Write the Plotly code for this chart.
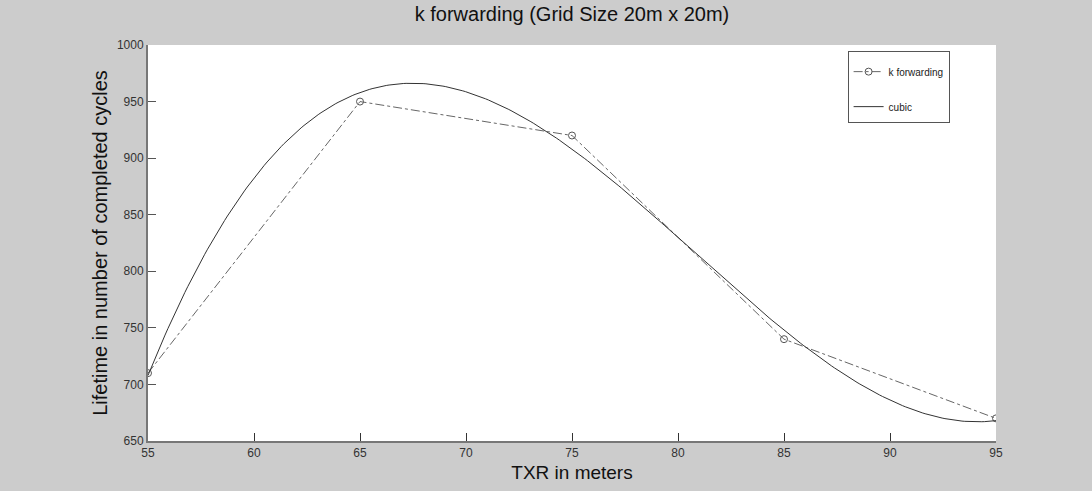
import numpy as np
import plotly.graph_objects as go

txr = [55, 65, 75, 85, 95]
lifetime = [710, 950, 920, 740, 670]
x_ticks = [55, 60, 65, 70, 75, 80, 85, 90, 95]
y_ticks = [650, 700, 750, 800, 850, 900, 950, 1000]

# cubic least-squares fit of the measured points (the "cubic" series)
coef = np.polyfit(txr, lifetime, 3)
xs = np.linspace(min(txr), max(txr), 300)
ys = np.polyval(coef, xs)

cond = "Liberation Sans Narrow, Arial Narrow, Liberation Sans, Arial, sans-serif"
small = "Arial, Liberation Sans, sans-serif"

fig = go.Figure()
fig.add_trace(go.Scatter(
    x=txr, y=lifetime, mode="lines+markers", name="k forwarding", legendgroup="a",
    line=dict(color="#666666", width=1, dash="dashdot"),
    marker=dict(symbol="circle-open", size=7, color="#555555", line=dict(width=1)),
))
fig.add_trace(go.Scatter(
    x=xs, y=ys, mode="lines", name="cubic", legendgroup="b",
    line=dict(color="#333333", width=1),
))

fig.update_layout(
    width=1092, height=491,
    paper_bgcolor="#cccccc", plot_bgcolor="#ffffff",
    margin=dict(l=148, r=96, t=45, b=50),
    title=dict(text="k forwarding (Grid Size 20m x 20m)", x=0.5, xref="paper",
               y=0.985, yref="container", yanchor="top",
               font=dict(family=cond, size=20, color="#111111")),
    showlegend=True,
    legend=dict(x=0.825, y=0.985, xanchor="left", yanchor="top",
                bgcolor="#ffffff", bordercolor="#555555", borderwidth=1,
                font=dict(family=small, size=10, color="#222222"),
                tracegroupgap=16, itemwidth=30,
                title=dict(text=" ", font=dict(size=4))),
    xaxis=dict(range=[55, 95], tickvals=x_ticks, showgrid=False, zeroline=False,
               showline=True, linecolor="#777777", linewidth=2,
               ticks="inside", ticklen=8, tickcolor="#333333",
               tickfont=dict(family=small, size=12, color="#333333"),
               title=dict(text="TXR in meters", standoff=6,
                          font=dict(family=cond, size=19, color="#111111"))),
    yaxis=dict(range=[650, 1000], tickvals=y_ticks, showgrid=False, zeroline=False,
               showline=True, linecolor="#777777", linewidth=2,
               ticks="inside", ticklen=8, tickcolor="#555555",
               tickfont=dict(family=small, size=12, color="#333333"),
               title=dict(text="Lifetime in number of completed cycles", standoff=4,
                          font=dict(family=cond, size=20, color="#111111"))),
)

fig.write_html("out.html")
